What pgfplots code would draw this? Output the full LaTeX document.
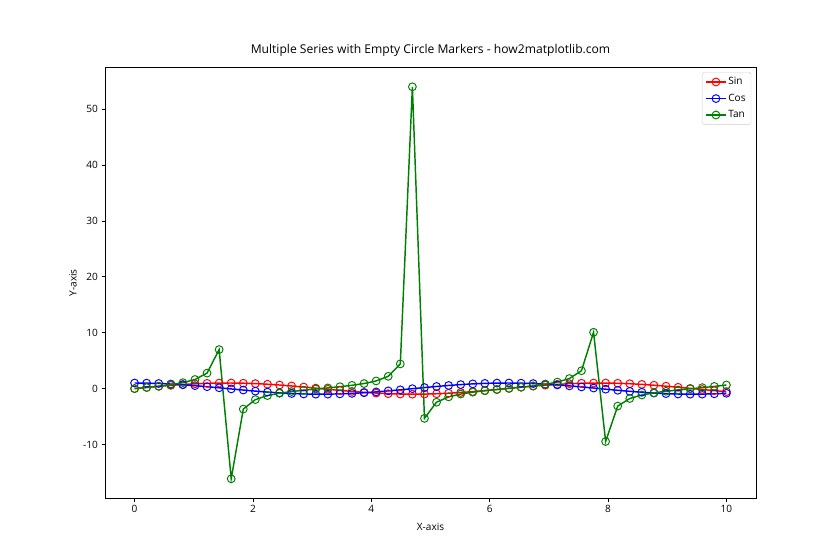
\documentclass[border=0pt]{standalone}
\usepackage{pgfplots}
\usepackage{pgfplotstable}
\pgfplotsset{compat=1.18}
\usepackage{fontspec}
\setmainfont{Open Sans}
\definecolor{mplgreen}{HTML}{008000}
\pgfplotstableread{
x sin cos tan
0.000000 0.000000 1.000000 0.000000
0.204082 0.202668 0.979248 0.206963
0.408163 0.396924 0.917852 0.432449
0.612245 0.574706 0.818360 0.702270
0.816327 0.728635 0.684902 1.063850
1.020408 0.852322 0.523018 1.629630
1.224490 0.940632 0.339425 2.771250
1.428571 0.989903 0.141746 6.983650
1.632653 0.998087 -0.061818 -16.145600
1.836735 0.964846 -0.262815 -3.671240
2.040816 0.891559 -0.452905 -1.968530
2.244898 0.781269 -0.624196 -1.251640
2.448980 0.638550 -0.769580 -0.829738
2.653061 0.469330 -0.883023 -0.531503
2.857143 0.280630 -0.959816 -0.292379
3.061224 0.080282 -0.996772 -0.080542
3.265306 -0.123397 -0.992358 0.124347
3.469388 -0.321956 -0.946754 0.340063
3.673469 -0.507152 -0.861857 0.588441
3.877551 -0.671298 -0.741188 0.905705
4.081633 -0.807581 -0.589755 1.369350
4.285714 -0.910347 -0.413846 2.199720
4.489796 -0.975328 -0.220759 4.418070
4.693878 -0.999829 -0.018510 54.015700
4.897959 -0.982831 0.184507 -5.326810
5.102041 -0.925041 0.379867 -2.435170
5.306122 -0.828858 0.559459 -1.481530
5.510204 -0.698272 0.715833 -0.975468
5.714286 -0.538704 0.842495 -0.639415
5.918367 -0.356780 0.934189 -0.381914
6.122449 -0.160045 0.987110 -0.162135
6.326531 0.043332 0.999061 0.043373
6.530612 0.244910 0.969546 0.252603
6.734694 0.436323 0.899790 0.484918
6.938776 0.609627 0.792688 0.769058
7.142857 0.757628 0.652686 1.160780
7.346939 0.874184 0.485595 1.800230
7.551020 0.954457 0.298348 3.199140
7.755102 0.995115 0.098719 10.080300
7.959184 0.994471 -0.105008 -9.470430
8.163265 0.952552 -0.304376 -3.129520
8.367347 0.871098 -0.491112 -1.773730
8.571429 0.753487 -0.657463 -1.146050
8.775510 0.604604 -0.796526 -0.759052
8.979592 0.430626 -0.902530 -0.477133
9.183673 0.238776 -0.971075 -0.245888
9.387755 0.037015 -0.999315 -0.037040
9.591837 -0.166283 -0.986078 0.168631
9.795918 -0.362679 -0.931915 0.389176
10.000000 -0.544021 -0.839072 0.648361
}\datatable
\begin{document}
\begin{tikzpicture}
\path[use as bounding box] (-108bp,-63.36bp) rectangle (756bp,512.64bp);
\begin{axis}[
  at={(0,0)}, anchor=south west,
  scale only axis, width=669.6bp, height=443.52bp,
  xmin=-0.5, xmax=10.5, ymin=-19.654, ymax=57.524,
  xtick={0,2,4,6,8,10}, ytick={-10,0,10,20,30,40,50},
  tick align=outside, major tick length=3.5bp,
  major tick style={line width=0.8bp, black},
  axis line style={line width=0.8bp},
  xtick pos=bottom, ytick pos=left,
  /pgf/number format/assume math mode=true,
  ticklabel style={font=\fontsize{10.4}{12}\selectfont, inner sep=0pt},
  xticklabel style={yshift=-3.5bp},
  yticklabel style={xshift=-3.5bp},
  title={Multiple Series with Empty Circle Markers - how2matplotlib.com},
  title style={font=\fontsize{12.5}{14}\selectfont, at={(rel axis cs:0.5,1)}, anchor=base, yshift=8.5bp, inner sep=0pt},
  xlabel={X-axis}, ylabel={Y-axis},
  xlabel style={font=\fontsize{10.4}{12}\selectfont, at={(rel axis cs:0.5,0)}, anchor=north, yshift=-25bp, inner sep=0pt},
  ylabel style={font=\fontsize{10.4}{12}\selectfont, at={(rel axis cs:0,0.5)}, anchor=south, yshift=29bp, inner sep=0pt},
  legend style={at={(rel axis cs:1,1)}, anchor=north east, xshift=-5bp, yshift=-5bp,
    draw=black!20, rounded corners=2bp, fill=white, fill opacity=0.8, text opacity=1,
    font=\fontsize{10.4}{12}\selectfont, inner sep=3.5bp, row sep=4bp},
  legend cell align=left,
  legend image code/.code={\draw[mark repeat=2,mark phase=2] plot coordinates {(0bp,0bp)(10bp,0bp)(20bp,0bp)};},
]
\addplot[red, line width=1.5bp, mark=o, mark size=4bp, mark options={line width=1bp}] table[x=x,y=sin] {\datatable};
\addlegendentry{Sin}
\addplot[blue, line width=1.5bp, mark=o, mark size=4bp, mark options={line width=1bp}] table[x=x,y=cos] {\datatable};
\addlegendentry{Cos}
\addplot[mplgreen, line width=1.5bp, mark=o, mark size=4bp, mark options={line width=1bp}] table[x=x,y=tan] {\datatable};
\addlegendentry{Tan}
\end{axis}
\end{tikzpicture}
\end{document}
